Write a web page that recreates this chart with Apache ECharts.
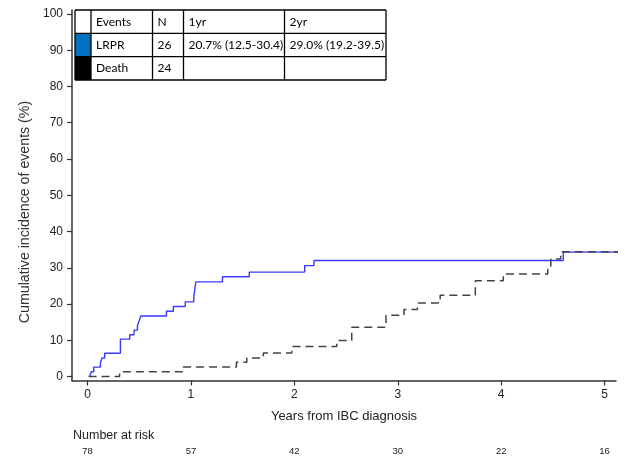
<!DOCTYPE html>
<html><head><meta charset="utf-8">
<script src="https://cdn.jsdelivr.net/npm/echarts@6/dist/echarts.min.js"></script>
<style>html,body{margin:0;padding:0;background:#fff}#c{width:625px;height:456px}</style>
</head><body><div id="c"></div>
<script>
// ---- data ----
const xTicks = [0, 1, 2, 3, 4, 5];
const yTicks = [0, 10, 20, 30, 40, 50, 60, 70, 80, 90, 100];
const lrprTimes  = [0.02, 0.037, 0.06, 0.125, 0.14, 0.166, 0.318, 0.408, 0.45, 0.483, 0.5, 0.515, 0.763, 0.83, 0.945, 1.028, 1.047, 1.305, 1.564, 2.10, 2.19, 4.60, 5.14];
const lrprValues = [0, 1.3, 2.6, 3.8, 5.1, 6.4, 10.3, 11.5, 12.8, 14.1, 15.4, 16.7, 18.0, 19.3, 20.6, 22.0, 26.1, 27.5, 28.8, 30.6, 32.0, 34.3, 34.3];
const deathTimes  = [0.01, 0.31, 0.925, 1.44, 1.54, 1.70, 1.975, 2.41, 2.555, 2.886, 3.06, 3.19, 3.41, 3.75, 4.02, 4.45, 4.48, 4.575, 5.14];
const deathValues = [0, 1.3, 2.6, 3.9, 5.1, 6.5, 8.3, 9.9, 13.6, 16.9, 18.5, 20.3, 22.4, 26.4, 28.3, 30.4, 32.4, 34.4, 34.4];
const riskTimes = [0, 1, 2, 3, 4, 5];
const riskCounts = [78, 57, 42, 30, 22, 16];
const tableHeader = ['Events', 'N', '1yr', '2yr'];
const tableRows = [
  ['LRPR', '26', '20.7% (12.5-30.4)', '29.0% (19.2-39.5)'],
  ['Death', '24', '', '']
];
const rowSwatches = ['#0070C0', '#000000'];

// ---- layout ----
const colX = [75, 91, 152.5, 183.5, 284.5, 386];
const rowY = [10, 33.3, 56.7, 80];
const tableFont = '12px Lato';

const graphics = [];
graphics.push({type:'rect', shape:{x:colX[0], y:rowY[0], width:colX[colX.length-1]-colX[0], height:rowY[rowY.length-1]-rowY[0]}, style:{fill:'#fff'}, z:9});
rowSwatches.forEach((c, i) => {
  graphics.push({type:'rect', shape:{x:colX[0], y:rowY[i+1], width:colX[1]-colX[0], height:rowY[i+2]-rowY[i+1]}, style:{fill:c}, z:10});
});
const allRows = [tableHeader].concat(tableRows);
allRows.forEach((r, ri) => {
  r.forEach((txt, ci) => {
    if (!txt) return;
    graphics.push({type:'text', x:colX[ci+1]+5, y:(rowY[ri]+rowY[ri+1])/2,
      style:{text:txt, font:tableFont, fill:'#000', verticalAlign:'middle', align:'left'}, z:12});
  });
});
colX.forEach((x) => {
  graphics.push({type:'line', shape:{x1:x, y1:rowY[0], x2:x, y2:rowY[rowY.length-1]}, style:{stroke:'#000', lineWidth:1.3}, z:11});
});
rowY.forEach((y) => {
  graphics.push({type:'line', shape:{x1:colX[0], y1:y, x2:colX[colX.length-1], y2:y}, style:{stroke:'#000', lineWidth:1.3}, z:11});
});
graphics.push({type:'text', x:25, y:212, rotation:Math.PI/2,
  style:{text:'Cumulative incidence of events (%)', font:'14.2px "Liberation Sans"', fill:'#333', align:'center', verticalAlign:'middle'}});
graphics.push({type:'text', x:73, y:436,
  style:{text:'Number at risk', font:'12.5px "Liberation Sans"', fill:'#222', align:'left', verticalAlign:'middle'}});

const chart = echarts.init(document.getElementById('c'), null, {renderer:'canvas'});
const axisCol = '#333';
chart.setOption({
  animation:false,
  backgroundColor:'#fff',
  grid:{left:72, right:9, top:10, bottom:75, containLabel:false},
  xAxis:[{
    type:'value', min:-0.15, max:5.11,
    splitLine:{show:false},
    axisLine:{show:true, onZero:false, lineStyle:{color:axisCol, width:1.5}},
    axisTick:{show:true, length:5, customValues:xTicks, lineStyle:{color:axisCol, width:1.2}},
    axisLabel:{customValues:xTicks, margin:8, color:'#222', fontFamily:'Liberation Sans', fontSize:12},
    name:'Years from IBC diagnosis', nameLocation:'middle', nameGap:29,
    nameTextStyle:{color:'#222', fontFamily:'Liberation Sans', fontSize:13}
  },{
    type:'value', min:-0.15, max:5.11, position:'bottom', offset:60,
    splitLine:{show:false}, axisLine:{show:false}, axisTick:{show:false},
    axisLabel:{customValues:riskTimes, margin:5.5, color:'#222', fontFamily:'Liberation Sans', fontSize:9.5,
      formatter:(v)=>{const i=riskTimes.indexOf(v); return i>=0 ? String(riskCounts[i]) : '';}}
  }],
  yAxis:{
    type:'value', min:-1.1, max:101.1,
    splitLine:{show:false},
    axisLine:{show:true, onZero:false, lineStyle:{color:axisCol, width:1.5}},
    axisTick:{show:true, length:5, customValues:yTicks, lineStyle:{color:axisCol, width:1.2}},
    axisLabel:{customValues:yTicks, margin:9, color:'#222', fontFamily:'Liberation Sans', fontSize:12}
  },
  series:[{
    name:'LRPR', type:'line', step:'end', showSymbol:false, clip:false,
    data: lrprTimes.map((t,i)=>[t, lrprValues[i]]),
    lineStyle:{color:'#3a3aff', width:1.4}, z:3
  },{
    name:'Death', type:'line', step:'end', showSymbol:false, clip:false,
    data: deathTimes.map((t,i)=>[t, deathValues[i]]),
    lineStyle:{color:'#444', width:1.5, type:[8,5]}, z:4
  }],
  graphic: graphics
});
</script></body></html>
